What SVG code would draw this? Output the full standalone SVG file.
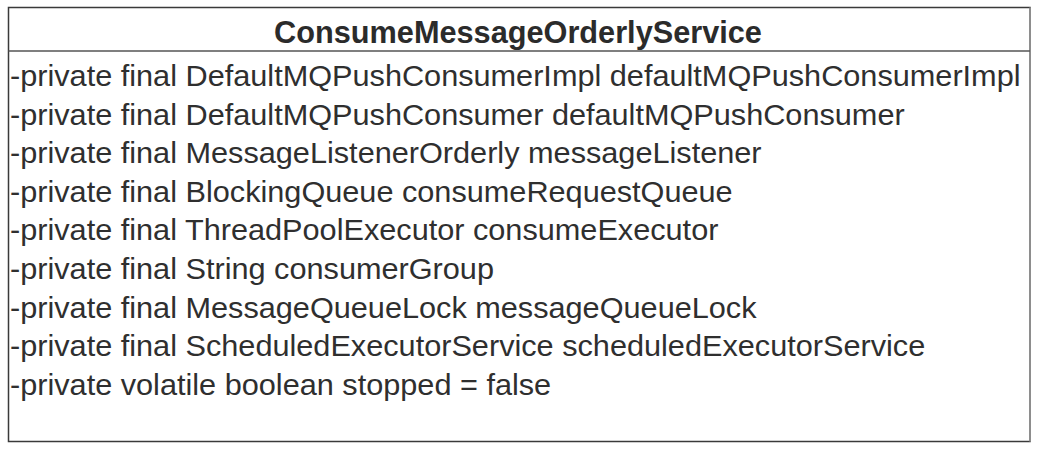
<svg xmlns="http://www.w3.org/2000/svg" width="1039" height="450" viewBox="0 0 1039 450">
<style>
.title{font-family:"Liberation Sans",Arial,sans-serif;font-weight:bold;font-size:30.7px;fill:#2b2b2b}
.attr{font-family:"Liberation Sans",Arial,sans-serif;font-size:29.5px;fill:#2f2f2f}
</style>
<rect width="1039" height="450" fill="#ffffff"/>
<g id="ConsumeMessageOrderlyService">
<rect x="8.5" y="7.5" width="1021.5" height="434" fill="#ffffff" stroke="#3a3a3a" stroke-width="1.5"/>
<line x1="1030" y1="7.5" x2="1030" y2="441.5" stroke="#9a9a9a" stroke-width="1.5"/>
<line x1="8.5" y1="51" x2="1030" y2="51" stroke="#555555" stroke-width="1.5"/>
<text class="title" x="518" y="43" text-anchor="middle">ConsumeMessageOrderlyService</text>
<g transform="scale(1.04 1)">
<text class="attr" x="9.6" y="86">-private final DefaultMQPushConsumerImpl defaultMQPushConsumerImpl</text>
<text class="attr" x="9.6" y="124.6">-private final DefaultMQPushConsumer defaultMQPushConsumer</text>
<text class="attr" x="9.6" y="163.2">-private final MessageListenerOrderly messageListener</text>
<text class="attr" x="9.6" y="201.8">-private final BlockingQueue consumeRequestQueue</text>
<text class="attr" x="9.6" y="240.4">-private final ThreadPoolExecutor consumeExecutor</text>
<text class="attr" x="9.6" y="279">-private final String consumerGroup</text>
<text class="attr" x="9.6" y="317.6">-private final MessageQueueLock messageQueueLock</text>
<text class="attr" x="9.6" y="356.2">-private final ScheduledExecutorService scheduledExecutorService</text>
<text class="attr" x="9.6" y="394.8">-private volatile boolean stopped = false</text>
</g>
</g>
<g id="connectors"></g>
</svg>
